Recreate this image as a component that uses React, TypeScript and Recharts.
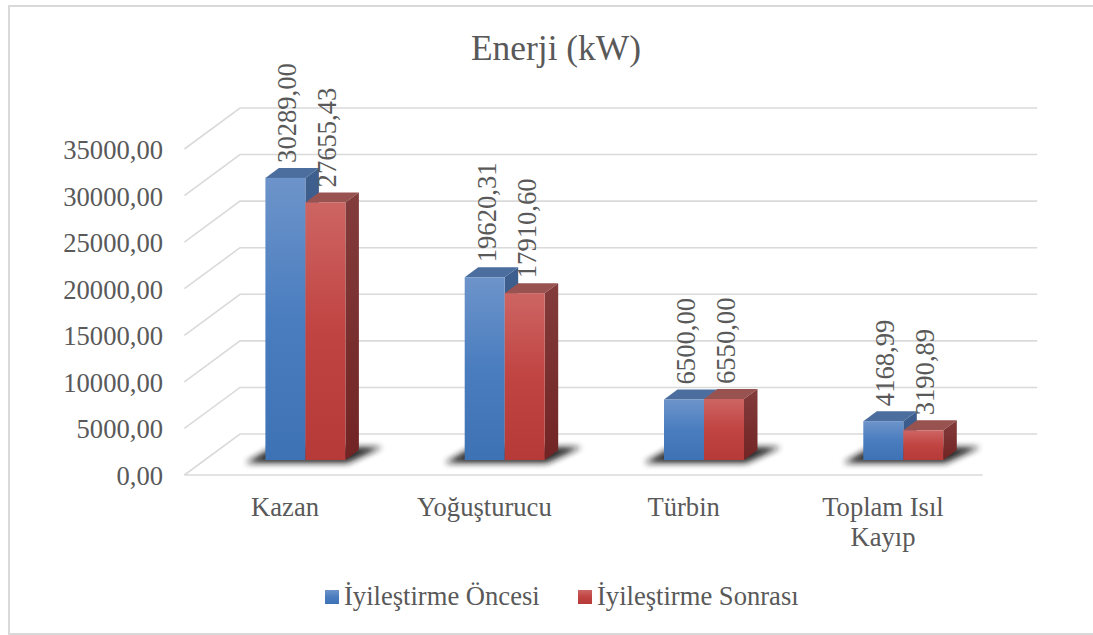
import { BarChart, Bar, XAxis, YAxis, CartesianGrid, Legend, LabelList } from 'recharts'

const categories = ['Kazan', 'Yoğuşturucu', 'Türbin', 'Toplam Isıl Kayıp']
const beforeValues = [30289.0, 19620.31, 6500.0, 4168.99]
const afterValues = [27655.43, 17910.6, 6550.0, 3190.89]
const yTicks = [0, 5000, 10000, 15000, 20000, 25000, 30000, 35000]
const seriesNames = ['İyileştirme Öncesi', 'İyileştirme Sonrası']

const data = categories.map((name, i) => ({ name, before: beforeValues[i], after: afterValues[i] }))

const FONT = '"Liberation Serif", serif'
const TEXT = '#595959'
const BORDER = '#d9d9d9'
const DX = 13.5
const DY = -10

const fmt = (v: number) => v.toFixed(2).replace('.', ',')

function ChartText({ x, y, size = 26.6, anchor = 'start', rotate = false, children }: any) {
  const transform = `translate(${x},${y})${rotate ? ' rotate(-90)' : ''}`
  return (
    <text
      transform={transform}
      textAnchor={anchor}
      dominantBaseline={rotate ? 'central' : undefined}
      fontFamily={FONT}
      fontSize={size}
      fill={TEXT}
    >
      {children}
    </text>
  )
}

function box(props: any, front: string, top: string, side: string, shadow: boolean) {
  const { x, y, width: w, height: h } = props
  const y0 = y + h
  return (
    <g>
      {shadow && (
        <polygon
          points={`${x - 20},${y0 + 3} ${x + 2 * w + 2},${y0 + 3} ${x + 2 * w + 37},${y0 - 13} ${x + 8},${y0 - 13}`}
          fill="#151515"
          opacity={0.92}
          filter="url(#soft)"
        />
      )}
      <polygon points={`${x},${y} ${x + DX},${y + DY} ${x + w + DX},${y + DY} ${x + w},${y}`} fill={top} />
      <polygon points={`${x + w},${y} ${x + w + DX},${y + DY} ${x + w + DX},${y0 + DY} ${x + w},${y0}`} fill={side} />
      <rect x={x} y={y} width={w} height={h} fill={front} />
    </g>
  )
}

const BlueBar = (props: any) => box(props, 'url(#blueFront)', '#4c6e9f', 'url(#blueSide)', true)
const RedBar = (props: any) => box(props, 'url(#redFront)', '#985250', 'url(#redSide)', false)

function ValueLabel({ x, y, width, value }: any) {
  return (
    <ChartText x={x + width / 2 + 2} y={y - 15} rotate>
      {fmt(value)}
    </ChartText>
  )
}

function GridLine({ x1, x2, y1 }: any) {
  const path = `M${x1 - 21},${y1 + 15} L${x1 + 34.6},${y1 - 26} L${x2 + 34.6},${y1 - 26}`
  return (
    <g>
      <path d={path} fill="none" stroke="#dadada" strokeWidth={1.6} />
      {y1 > 455 && <path d={`M${x1 - 21},${y1 + 15} L${x2 - 20},${y1 + 15}`} stroke="#dadada" strokeWidth={1.6} />}
    </g>
  )
}

function YTick({ y, payload }: any) {
  return (
    <ChartText x={163} y={y + 25} anchor="end">
      {fmt(payload.value)}
    </ChartText>
  )
}

function XTick({ x, y, payload }: any) {
  const text: string = payload.value
  const cut = text.length > 12 ? text.lastIndexOf(' ') : -1
  const lines = cut > 0 ? [text.slice(0, cut), text.slice(cut + 1)] : [text]
  return (
    <g>
      {lines.map((line, i) => (
        <ChartText key={line} x={x - 20} y={y + 48 + i * 30} anchor="middle">
          {line}
        </ChartText>
      ))}
    </g>
  )
}

function LegendBox() {
  return (
    <svg width={1093} height={40} style={{ display: 'block' }}>
      <rect x={325} y={14} width={14} height={14} fill="url(#blueFront)" />
      <ChartText x={344} y={29}>{seriesNames[0]}</ChartText>
      <rect x={578} y={14} width={14} height={14} fill="url(#redFront)" />
      <ChartText x={597} y={29}>{seriesNames[1]}</ChartText>
    </svg>
  )
}

export default function App() {
  return (
    <div style={{ position: 'absolute', left: 0, top: 0, width: 1093, height: 635, background: '#fff' }}>
      {/* the frame is cut off on the right in the reference */}
      <div
        style={{
          position: 'absolute',
          left: 8,
          top: 5,
          width: 1085,
          height: 626,
          borderTop: `2px solid ${BORDER}`,
          borderLeft: `2px solid ${BORDER}`,
          borderBottom: `2px solid ${BORDER}`,
        }}
      />
      <BarChart
        width={1093}
        height={635}
        data={data}
        barSize={40}
        barGap={0}
        margin={{ top: 134, right: 90.4, bottom: 105, left: 0.4 }}
      >
        <defs>
          <linearGradient id="blueFront" x1="0" y1="0" x2="0" y2="1">
            <stop offset="0" stopColor="#6d94ca" />
            <stop offset="0.5" stopColor="#4a7dbf" />
            <stop offset="1" stopColor="#3d72b5" />
          </linearGradient>
          <linearGradient id="redFront" x1="0" y1="0" x2="0" y2="1">
            <stop offset="0" stopColor="#cd6563" />
            <stop offset="0.5" stopColor="#c04442" />
            <stop offset="1" stopColor="#b53a38" />
          </linearGradient>
          <linearGradient id="blueSide" x1="0" y1="0" x2="0" y2="1">
            <stop offset="0" stopColor="#3f5f8e" />
            <stop offset="1" stopColor="#2f5486" />
          </linearGradient>
          <linearGradient id="redSide" x1="0" y1="0" x2="0" y2="1">
            <stop offset="0" stopColor="#823c3b" />
            <stop offset="1" stopColor="#722424" />
          </linearGradient>
          <filter id="soft" x="-20%" y="-80%" width="140%" height="260%">
            <feGaussianBlur stdDeviation="3" />
          </filter>
        </defs>
        <CartesianGrid vertical={false} horizontal={(props: any) => <GridLine key={props.key} {...props} />} />
        <XAxis dataKey="name" height={70} axisLine={false} tickLine={false} interval={0} tick={<XTick />} />
        <YAxis width={205} domain={[0, 35000]} ticks={yTicks} axisLine={false} tickLine={false} tick={<YTick />} />
        <Bar dataKey="before" name={seriesNames[0]} shape={BlueBar} isAnimationActive={false}>
          <LabelList dataKey="before" content={<ValueLabel />} />
        </Bar>
        <Bar dataKey="after" name={seriesNames[1]} shape={RedBar} isAnimationActive={false}>
          <LabelList dataKey="after" content={<ValueLabel />} />
        </Bar>
        <Legend
          layout="horizontal"
          verticalAlign="middle"
          align="center"
          content={<LegendBox />}
          wrapperStyle={{ left: 0, top: 576, width: 1093 }}
        />
        <ChartText x={556} y={60} size={35.4} anchor="middle">
          Enerji (kW)
        </ChartText>
      </BarChart>
    </div>
  )
}
